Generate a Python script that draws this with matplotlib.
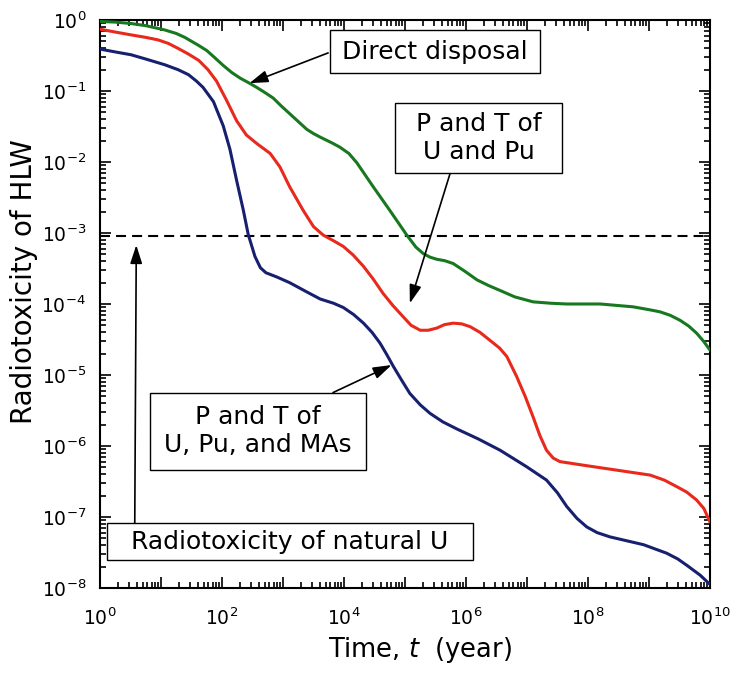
import numpy as np
import matplotlib
matplotlib.use("Agg")
import matplotlib.pyplot as plt
from matplotlib.patches import Rectangle
from matplotlib.ticker import LogLocator, NullFormatter

plt.rcParams["font.family"] = ["DejaVu Sans"]
plt.rcParams["mathtext.fontset"] = "dejavusans"

# Decay curves: exponents of time (years) and of relative radiotoxicity
direct_logt = [0.0, 0.25, 0.51, 0.75, 1.06, 1.25, 1.39, 1.48, 1.62, 1.75, 1.88,
               2.02, 2.16, 2.30, 2.45, 2.57, 2.70, 2.84, 2.97, 3.11, 3.25, 3.39,
               3.50, 3.61, 3.8, 3.93, 4.08, 4.21, 4.48, 4.75, 5.03, 5.18, 5.30,
               5.41, 5.52, 5.65, 5.79, 6.0, 6.18, 6.37, 6.56, 6.8, 7.1, 7.4,
               7.65, 8.2, 8.74, 9.0, 9.18, 9.35, 9.51, 9.65, 9.78, 9.9, 10.0]
direct_logy = [-0.02, -0.03, -0.05, -0.08, -0.14, -0.19, -0.245, -0.29, -0.36,
               -0.43, -0.53, -0.64, -0.74, -0.82, -0.89, -0.95, -1.02, -1.10,
               -1.21, -1.32, -1.43, -1.54, -1.60, -1.65, -1.73, -1.79, -1.88,
               -2.01, -2.35, -2.68, -3.03, -3.20, -3.29, -3.34, -3.37, -3.39,
               -3.43, -3.55, -3.66, -3.74, -3.81, -3.90, -3.97, -3.99, -4.00,
               -4.00, -4.04, -4.08, -4.11, -4.16, -4.23, -4.31, -4.41, -4.53,
               -4.65]

upu_logt = [0.0, 0.25, 0.51, 0.75, 0.95, 1.12, 1.28, 1.45, 1.62, 1.77, 1.91,
            2.08, 2.24, 2.40, 2.57, 2.79, 2.95, 3.11, 3.33, 3.50, 3.66, 3.83,
            3.99, 4.15, 4.32, 4.48, 4.64, 4.80, 4.97, 5.1, 5.25, 5.38, 5.52,
            5.65, 5.79, 5.93, 6.07, 6.23, 6.39, 6.55, 6.67, 6.83, 6.97, 7.10,
            7.21, 7.32, 7.43, 7.54, 7.92, 8.47, 9.02, 9.25, 9.45, 9.62, 9.78,
            9.9, 10.0]
upu_logy = [-0.13, -0.17, -0.21, -0.245, -0.28, -0.33, -0.40, -0.48, -0.57,
            -0.70, -0.86, -1.14, -1.42, -1.62, -1.74, -1.88, -2.07, -2.35,
            -2.68, -2.91, -3.03, -3.11, -3.19, -3.31, -3.47, -3.65, -3.85,
            -4.02, -4.18, -4.30, -4.37, -4.37, -4.34, -4.29, -4.27, -4.28,
            -4.32, -4.40, -4.51, -4.62, -4.74, -5.02, -5.30, -5.59, -5.85,
            -6.06, -6.17, -6.22, -6.27, -6.34, -6.41, -6.48, -6.57, -6.65,
            -6.76, -6.88, -7.07]

upuma_logt = [0.0, 0.25, 0.51, 0.75, 1.06, 1.28, 1.45, 1.58, 1.69, 1.86, 2.02,
              2.13, 2.24, 2.35, 2.43, 2.54, 2.63, 2.72, 2.90, 3.11, 3.39, 3.61,
              3.83, 3.99, 4.16, 4.32, 4.46, 4.59, 4.70, 4.81, 4.95, 5.08, 5.25,
              5.41, 5.62, 5.85, 6.2, 6.56, 6.99, 7.32, 7.5, 7.65, 7.82, 7.98,
              8.15, 8.36, 8.91, 9.29, 9.47, 9.62, 9.84, 10.0]
upuma_logy = [-0.41, -0.45, -0.49, -0.55, -0.63, -0.70, -0.77, -0.86, -0.95,
              -1.15, -1.49, -1.82, -2.26, -2.68, -3.02, -3.33, -3.49, -3.56,
              -3.62, -3.70, -3.83, -3.93, -3.99, -4.05, -4.15, -4.27, -4.40,
              -4.55, -4.71, -4.88, -5.08, -5.26, -5.42, -5.54, -5.66, -5.76,
              -5.90, -6.06, -6.29, -6.48, -6.66, -6.85, -7.02, -7.14, -7.22,
              -7.28, -7.39, -7.51, -7.59, -7.68, -7.82, -7.95]

natural_u_level = 9e-4

series = [
    (direct_logt, direct_logy, "#17781f"),
    (upu_logt, upu_logy, "#e8291c"),
    (upuma_logt, upuma_logy, "#16206e"),
]

fig = plt.figure(figsize=(7.32, 6.75), dpi=100)
ax = fig.add_axes([0.1366, 0.1289, 0.8333, 0.8415])

for lt, ly, col in series:
    ax.plot(10 ** np.array(lt), 10 ** np.array(ly), color=col, lw=2.2,
            solid_joinstyle="round", solid_capstyle="round", zorder=3)

ax.axhline(natural_u_level, color="black", lw=1.5, ls=(0, (4.8, 2.9)), zorder=2)

ax.set_xscale("log")
ax.set_yscale("log")
ax.set_xlim(1, 1e10)
ax.set_ylim(1e-8, 1)

ax.xaxis.set_minor_locator(LogLocator(base=10, subs=np.arange(2, 10), numticks=100))
ax.yaxis.set_major_locator(LogLocator(base=10, numticks=20))
ax.yaxis.set_minor_locator(LogLocator(base=10, subs=np.arange(2, 10), numticks=100))
ax.yaxis.set_minor_formatter(NullFormatter())
ax.xaxis.set_minor_formatter(NullFormatter())

ax.set_xticks([10.0 ** k for k in range(0, 11)])
ax.set_xticklabels([f"$10^{{{k}}}$" if k % 2 == 0 else "" for k in range(0, 11)])

ax.tick_params(which="both", direction="in", top=True, right=True, width=1.2)
ax.tick_params(which="major", length=8, labelsize=13.5)
ax.tick_params(axis="x", which="major", pad=14)
ax.tick_params(axis="y", which="major", pad=10)
ax.tick_params(which="minor", length=4)
for sp in ax.spines.values():
    sp.set_linewidth(1.5)

ax.set_ylabel("Radiotoxicity of HLW", fontsize=20)
ax.yaxis.set_label_coords(-0.102, 0.539)
ax.set_xlabel("Time, $\\it{t}$  (year)", fontsize=18.5)
ax.xaxis.set_label_coords(0.525, -0.082)

arrow = dict(arrowstyle="-|>,head_length=0.8,head_width=0.26", color="black",
             lw=1.2, mutation_scale=14, shrinkA=0, shrinkB=0)

# Boxed labels: (text, box corners in axes fraction, arrow start, arrow tip exponents)
labels = [
    ("Direct disposal", (0.377, 0.906, 0.721, 0.982), (0.374, 0.942), (2.45, -0.89)),
    ("P and T of\nU and Pu", (0.484, 0.730, 0.758, 0.854), (0.574, 0.730), (5.08, -3.99)),
    ("P and T of\nU, Pu, and MAs", (0.082, 0.208, 0.436, 0.344), (0.382, 0.344), (4.78, -4.86)),
    ("Radiotoxicity of natural U", (0.012, 0.049, 0.611, 0.114), (0.057, 0.114), (0.595, -3.17)),
]
for txt, (x0, y0, x1, y1), start, tip in labels:
    ax.annotate("", xy=(10 ** tip[0], 10 ** tip[1]), xycoords="data",
                xytext=start, textcoords="axes fraction", arrowprops=arrow, zorder=4)
    ax.add_patch(Rectangle((x0, y0), x1 - x0, y1 - y0, transform=ax.transAxes,
                           fc="white", ec="black", lw=1.0, zorder=5))
    ax.text((x0 + x1) / 2, (y0 + y1) / 2, txt, transform=ax.transAxes,
            ha="center", va="center", multialignment="center",
            fontsize=18, linespacing=1.2, zorder=6)

fig.savefig("out.png", dpi=100)
